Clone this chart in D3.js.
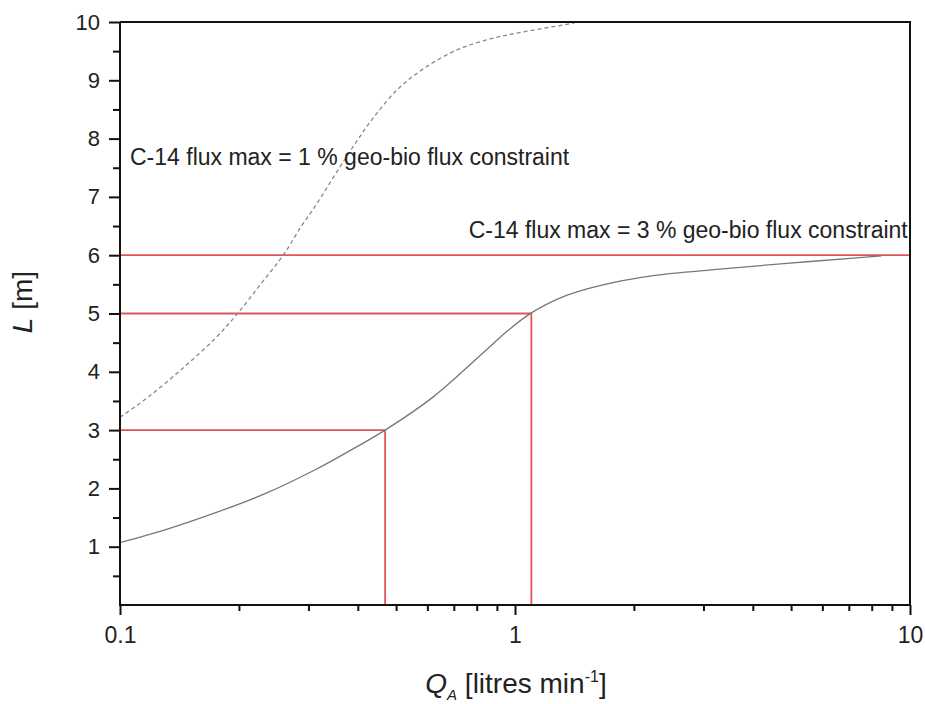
<!DOCTYPE html>
<html>
<head>
<meta charset="utf-8">
<script src="https://cdn.jsdelivr.net/npm/d3@7/dist/d3.min.js"></script>
<style>
  html, body { margin: 0; padding: 0; background: #fff; }
  svg { display: block; font-family: "Liberation Sans", Arial, sans-serif; }
</style>
</head>
<body>
<script>
// ---- data ----
const solidQ = [0.1, 0.130, 0.174, 0.233, 0.312, 0.378, 0.469, 0.621, 0.832, 0.953, 1.10, 1.35, 1.64, 2.24, 3.30, 4.88, 7.20, 8.47];
const solidL = [1.07, 1.29, 1.58, 1.91, 2.32, 2.63, 3.00, 3.57, 4.33, 4.69, 5.01, 5.31, 5.48, 5.65, 5.76, 5.86, 5.95, 5.99];
const dashedQ = [0.1, 0.103, 0.118, 0.143, 0.174, 0.199, 0.228, 0.259, 0.288, 0.312, 0.360, 0.398, 0.437, 0.502, 0.584, 0.712, 0.865, 1.05, 1.41];
const dashedL = [3.22, 3.28, 3.57, 4.04, 4.57, 5.01, 5.52, 6.00, 6.50, 6.84, 7.51, 7.96, 8.35, 8.83, 9.19, 9.52, 9.71, 9.83, 9.98];
const guideL = [3, 5, 6];
const guideQ = [0.469, 1.10, null];
const yTicks = [1, 2, 3, 4, 5, 6, 7, 8, 9, 10];
const yMinor = [0.5, 1.5, 2.5, 3.5, 4.5, 5.5, 6.5, 7.5, 8.5, 9.5];
const xTicks = [0.1, 1, 10];
const xTickLabels = ["0.1", "1", "10"];
const xMinor = [0.2, 0.3, 0.4, 0.5, 0.6, 0.7, 0.8, 0.9, 2, 3, 4, 5, 6, 7, 8, 9];
const annotations = [
  { text: "C-14 flux max = 1 % geo-bio flux constraint", q: 0.1, l: 7.55 },
  { text: "C-14 flux max = 3 % geo-bio flux constraint", q: 0.72, l: 6.3 }
];

// ---- layout ----
const W = 925, H = 704;
const mLeft = 120, mRight = 910, mTop = 22, mBottom = 605;

const svg = d3.select("body").append("svg").attr("width", W).attr("height", H);

const x = d3.scaleLog().domain([0.1, 10]).range([mLeft, mRight]);
const y = d3.scaleLinear().domain([0, 10]).range([mBottom, mTop]);

const red = "#e05555";

// guide lines (red)
guideL.forEach((l, i) => {
  const q = guideQ[i];
  const xEnd = q == null ? x(10) : x(q);
  svg.append("line").attr("x1", x(0.1)).attr("x2", xEnd)
    .attr("y1", y(l)).attr("y2", y(l))
    .attr("stroke", red).attr("stroke-width", 1.8);
  if (q != null) {
    svg.append("line").attr("x1", x(q)).attr("x2", x(q))
      .attr("y1", y(l)).attr("y2", y(0))
      .attr("stroke", red).attr("stroke-width", 1.8);
  }
});

const line = d3.line().x(d => x(d[0])).y(d => y(d[1])).curve(d3.curveCatmullRom.alpha(0.5));

svg.append("path")
  .datum(solidQ.map((q, i) => [q, solidL[i]]))
  .attr("d", line).attr("fill", "none")
  .attr("stroke", "#777").attr("stroke-width", 1.3);

svg.append("path")
  .datum(dashedQ.map((q, i) => [q, dashedL[i]]))
  .attr("d", line).attr("fill", "none")
  .attr("stroke", "#888").attr("stroke-width", 1.3)
  .attr("stroke-dasharray", "4,3");

// axes
const axisColor = "#111";
const yAxis = svg.append("g").attr("transform", `translate(${mLeft},0)`)
  .call(d3.axisLeft(y).tickValues(yTicks).tickSize(11).tickPadding(9).tickFormat(d3.format("d")));
const yAxisMinor = svg.append("g").attr("transform", `translate(${mLeft},0)`)
  .call(d3.axisLeft(y).tickValues(yMinor).tickSize(7).tickFormat(""));
const xAxis = svg.append("g").attr("transform", `translate(0,${mBottom})`)
  .call(d3.axisBottom(x).tickValues(xTicks).tickSize(10).tickPadding(12)
    .tickFormat((d, i) => xTickLabels[i]));
const xAxisMinor = svg.append("g").attr("transform", `translate(0,${mBottom})`)
  .call(d3.axisBottom(x).tickValues(xMinor).tickSize(6).tickFormat(""));

[yAxis, yAxisMinor].forEach(g => g.select(".domain").attr("d", `M0,${mTop}V${mBottom + 1}`));
[xAxis, xAxisMinor].forEach(g => g.select(".domain").attr("d", `M${mLeft - 1},0H${mRight}`));
[yAxis, yAxisMinor, xAxis, xAxisMinor].forEach(g => {
  g.select(".domain").attr("stroke", axisColor).attr("stroke-width", 2);
  g.selectAll(".tick line").attr("stroke", axisColor).attr("stroke-width", 2);
  g.selectAll(".tick text").attr("fill", "#222").attr("font-family", "'Liberation Sans', Arial, sans-serif");
});
yAxis.selectAll(".tick text").attr("font-size", 22);
xAxis.selectAll(".tick text").attr("font-size", 23);

// frame: top and right
svg.append("line").attr("x1", mLeft).attr("x2", mRight + 1).attr("y1", mTop).attr("y2", mTop)
  .attr("stroke", axisColor).attr("stroke-width", 2);
svg.append("line").attr("x1", mRight).attr("x2", mRight).attr("y1", mTop).attr("y2", mBottom)
  .attr("stroke", axisColor).attr("stroke-width", 2);

// annotations
annotations.forEach(a => {
  svg.append("text")
    .attr("x", x(a.q) + 10).attr("y", y(a.l))
    .attr("font-size", 23).attr("fill", "#222")
    .text(a.text);
});

// x title
const xt = svg.append("text").attr("x", 516).attr("y", 693)
  .attr("text-anchor", "middle").attr("font-size", 28).attr("fill", "#222");
xt.append("tspan").attr("font-style", "italic").text("Q");
xt.append("tspan").attr("font-style", "italic").attr("font-size", 15).attr("dy", 7).text("A");
xt.append("tspan").attr("dy", -7).text(" [litres min");
xt.append("tspan").attr("font-size", 16).attr("dy", -11).text("-1");
xt.append("tspan").attr("dy", 11).text("]");

// y title
const yt = svg.append("text")
  .attr("transform", "translate(32,302) rotate(-90)")
  .attr("text-anchor", "middle").attr("font-size", 28).attr("fill", "#222");
yt.append("tspan").attr("font-style", "italic").text("L");
yt.append("tspan").text(" [m]");
</script>
</body>
</html>
